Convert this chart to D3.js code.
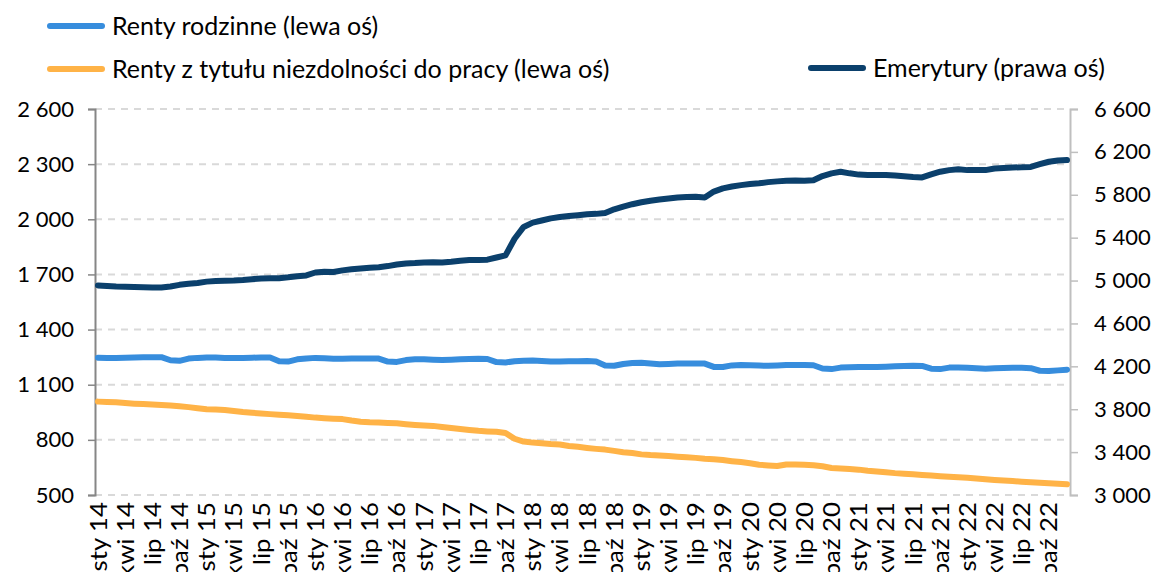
<!DOCTYPE html>
<html>
<head>
<meta charset="utf-8">
<script src="https://cdn.jsdelivr.net/npm/d3@7"></script>
<style>
  body { margin: 0; background: #fff; }
  text { font-family: Lato, "Open Sans", sans-serif; fill: #000; }
</style>
</head>
<body>
<svg id="chart" width="1158" height="572"></svg>
<script>
// months Jan 2014 - Dec 2022
var monthNames = ["sty", "lut", "mar", "kwi", "maj", "cze", "lip", "sie", "wrz", "paź", "lis", "gru"];
var years = ["14", "15", "16", "17", "18", "19", "20", "21", "22"];

// Renty rodzinne (lewa oś)
var rentyRodzinne = [
  1247, 1245, 1246, 1247, 1248, 1249, 1250, 1250, 1233, 1230, 1242, 1246,
  1248, 1248, 1246, 1245, 1246, 1247, 1248, 1248, 1228, 1226, 1238, 1243,
  1246, 1244, 1241, 1241, 1242, 1243, 1243, 1242, 1226, 1224, 1234, 1238,
  1239, 1236, 1234, 1236, 1239, 1240, 1241, 1240, 1223, 1221, 1228, 1231,
  1232, 1229, 1226, 1226, 1227, 1228, 1229, 1226, 1205, 1203, 1213, 1218,
  1219, 1215, 1211, 1213, 1215, 1216, 1216, 1215, 1197, 1196, 1205, 1207,
  1206, 1204, 1203, 1205, 1207, 1207, 1207, 1206, 1188, 1185, 1193, 1195,
  1196, 1196, 1196, 1198, 1200, 1202, 1203, 1202, 1187, 1185, 1193, 1194,
  1192, 1189, 1187, 1189, 1191, 1192, 1192, 1190, 1176, 1174, 1178, 1182
];

// Renty z tytułu niezdolności do pracy (lewa oś)
var rentyNiezdolnosc = [
  1008, 1006, 1004, 1000, 997, 995, 992, 990, 987, 983, 978, 972,
  967, 965, 962, 957, 951, 947, 944, 940, 937, 934, 930, 926,
  921, 918, 915, 913, 905, 899, 896, 895, 892, 890, 885, 881,
  878, 876, 870, 864, 859, 854, 849, 846, 844, 837, 806, 791,
  785, 781, 777, 775, 767, 762, 756, 751, 747, 740, 733, 728,
  721, 717, 715, 712, 708, 705, 702, 697, 694, 690, 684, 679,
  673, 665, 661, 658, 666, 666, 664, 662, 656, 647, 644, 641,
  638, 632, 628, 624, 619, 616, 613, 609, 606, 602, 599, 596,
  594, 590, 586, 582, 579, 576, 572, 569, 566, 564, 561, 558
];

// Emerytury (prawa oś)
var emerytury = [
  4955, 4950, 4945, 4942, 4940, 4938, 4935, 4935, 4945, 4960, 4970, 4978,
  4990, 4996, 4998, 5000, 5005, 5012, 5020, 5022, 5022, 5030, 5040, 5048,
  5075, 5082, 5080, 5095, 5105, 5112, 5120, 5125, 5135, 5150, 5160, 5163,
  5168, 5170, 5168, 5175, 5185, 5192, 5192, 5195, 5215, 5235, 5390, 5500,
  5540, 5560, 5580, 5592, 5602, 5610, 5618, 5622, 5630, 5665, 5690, 5712,
  5730, 5745, 5755, 5765, 5775, 5780, 5782, 5775, 5830, 5860, 5877, 5890,
  5900, 5907, 5918, 5925, 5930, 5932, 5930, 5935, 5975, 6000, 6015, 6000,
  5988, 5985, 5985, 5985, 5980, 5972, 5965, 5962, 5990, 6015, 6030, 6038,
  6030, 6030, 6030, 6045, 6050, 6055, 6056, 6060, 6085, 6108, 6120, 6124
];

var leftTicks = [500, 800, 1100, 1400, 1700, 2000, 2300, 2600];
var rightTicks = [3000, 3400, 3800, 4200, 4600, 5000, 5400, 5800, 6200, 6600];

var months = [];
years.forEach(y => monthNames.forEach(m => months.push(m + " " + y)));

var series = [
  {name: "Renty rodzinne (lewa oś)", values: rentyRodzinne, axis: "left", color: "#378ddd"},
  {name: "Renty z tytułu niezdolności do pracy (lewa oś)", values: rentyNiezdolnosc, axis: "left", color: "#ffb347"},
  {name: "Emerytury (prawa oś)", values: emerytury, axis: "right", color: "#0b406c"}
];

var svg = d3.select("#chart");
var plotLeft = 95, plotRight = 1070, plotTop = 109, plotBottom = 495;

var fmt = d3.formatLocale({decimal: ",", thousands: " ", grouping: [3], currency: ["", ""]}).format(",d");

var x = d3.scalePoint()
    .domain(months)
    .range([98, 1067]);

var yLeft = d3.scaleLinear().domain([500, 2600]).range([plotBottom, plotTop]);
var yRight = d3.scaleLinear().domain([3000, 6600]).range([plotBottom, plotTop]);

// gridlines
svg.append("g").selectAll("line")
  .data(leftTicks)
  .enter().append("line")
    .attr("x1", plotLeft).attr("x2", plotRight)
    .attr("y1", d => yLeft(d)).attr("y2", d => yLeft(d))
    .style("stroke", "#d9d9d9")
    .style("stroke-width", 2)
    .style("stroke-dasharray", "7,6");

// left axis
var gl = svg.append("g")
    .attr("transform", "translate(" + plotLeft + ",0)")
    .call(d3.axisLeft(yLeft).tickValues(leftTicks).tickFormat(fmt).tickSize(7).tickPadding(14));
gl.select(".domain").style("stroke", "#868686").style("stroke-width", 2);
gl.selectAll(".tick line").style("stroke", "#868686").style("stroke-width", 1.5);
gl.selectAll("text").style("font-size", "22px").style("font-family", "Lato");

// right axis
var gr = svg.append("g")
    .attr("transform", "translate(" + plotRight + ",0)")
    .call(d3.axisRight(yRight).tickValues(rightTicks).tickFormat(fmt).tickSize(8).tickPadding(16));
gr.select(".domain").style("stroke", "#bfbfbf").style("stroke-width", 2);
gr.selectAll(".tick line").style("stroke", "#bfbfbf").style("stroke-width", 1.5);
gr.selectAll("text").style("font-size", "22px").style("font-family", "Lato");

// x labels (rotated, slightly stretched along the text like the original)
var gx = svg.append("g")
    .attr("transform", "translate(0," + plotBottom + ")")
    .call(d3.axisBottom(x).tickValues(months.filter((d, i) => i % 3 == 0)).tickSize(0).tickPadding(0));
gx.select(".domain").remove();
gx.selectAll("text")
    .style("font-size", "23px")
    .style("font-family", "Lato")
    .attr("text-anchor", "end")
    .attr("dy", "0.35em")
    .attr("transform", "translate(0,7) rotate(-90) scale(1.12,1)")
    .attr("x", 0).attr("y", 0);

// lines
series.forEach(s => {
  var y = s.axis == "left" ? yLeft : yRight;
  var line = d3.line()
      .x((d, i) => x(months[i]))
      .y(d => y(d));
  svg.append("path")
      .datum(s.values)
      .attr("d", line)
      .style("fill", "none")
      .style("stroke", s.color)
      .style("stroke-width", 6)
      .style("stroke-linejoin", "round")
      .style("stroke-linecap", "round");
});

// legend
var legendPos = [{x: 50, y: 26}, {x: 50, y: 69}, {x: 811, y: 68}];
series.forEach((s, i) => {
  var p = legendPos[i];
  var g = svg.append("g").attr("transform", "translate(" + p.x + "," + p.y + ")");
  g.append("line")
      .attr("x1", 0).attr("x2", 52)
      .style("stroke", s.color)
      .style("stroke-width", 6)
      .style("stroke-linecap", "round");
  g.append("text")
      .attr("x", 62)
      .attr("dy", "0.35em")
      .style("font-size", "25px")
      .text(s.name);
});
</script>
</body>
</html>
